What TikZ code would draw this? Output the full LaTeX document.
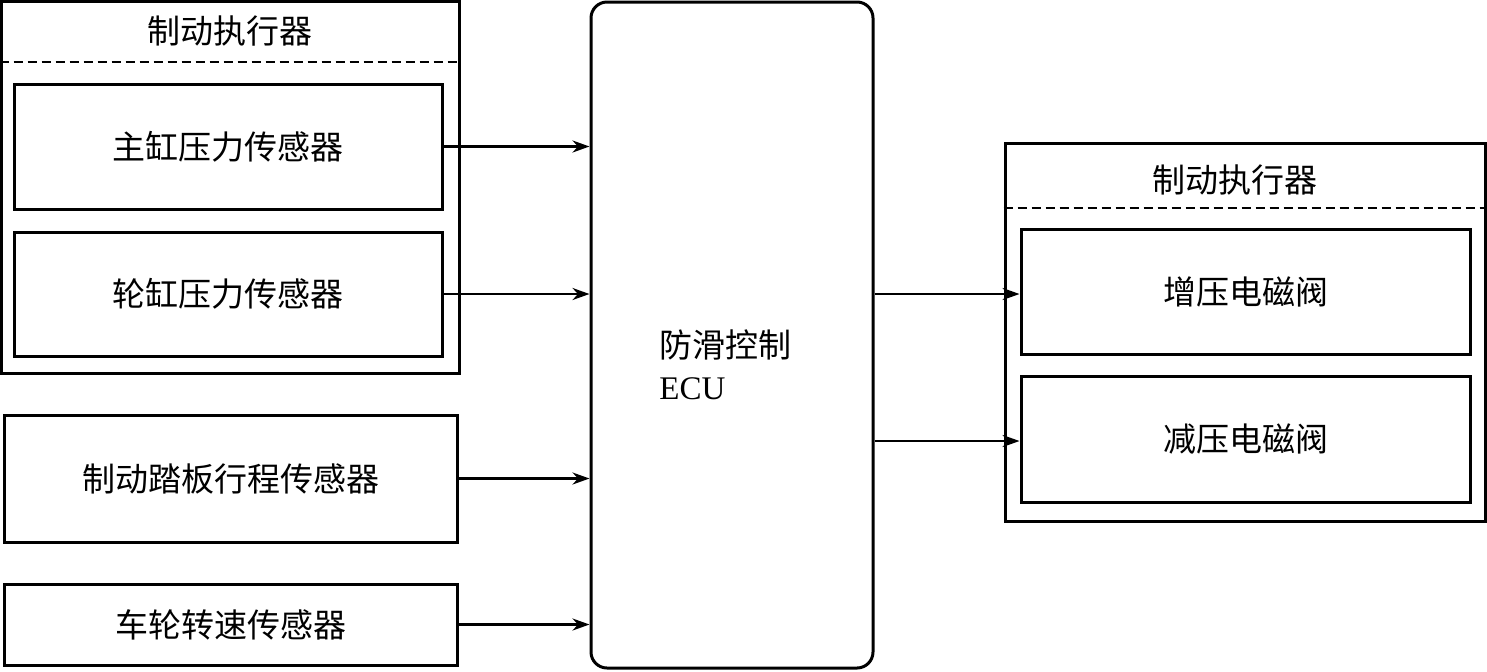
\documentclass[tikz,border=0pt]{standalone}
\usepackage{fontspec}
\newfontfamily\cjk{Noto Sans CJK SC}
\setmainfont{Liberation Serif}
\usetikzlibrary{arrows.meta}

\tikzset{
  box/.style={draw,line width=1.5pt,inner sep=0pt,font=\cjk\fontsize{16.5}{19}\selectfont},
  grp/.style={draw,line width=1.5pt,inner sep=0pt},
  sig/.style={line width=1.3pt,-{Stealth[length=8.5pt,width=6pt]}},
  sep/.style={line width=0.9pt,dash pattern=on 4.5pt off 2.5pt}
}

\begin{document}
\begin{tikzpicture}[x=0.5pt,y=-0.5pt]
  \useasboundingbox (0,0) rectangle (1487,671);

  % left: sensors
  \node[grp,minimum width=229pt,minimum height=186pt] (lgrp) at (230,187) {};
  \node[font=\cjk\fontsize{16.5}{19}\selectfont] (lhead) at (230,31) {制动执行器};
  \draw[sep] (lgrp.west |- 0,62) -- (lgrp.east |- 0,62);
  \node[box,minimum width=214pt,minimum height=62.5pt] (pmc) at (228,146.5) {主缸压力传感器};
  \node[box,minimum width=214pt,minimum height=62pt] (pwc) at (228,294) {轮缸压力传感器};
  \node[box,minimum width=226.5pt,minimum height=63.5pt] (ped) at (230.5,478.5) {制动踏板行程传感器};
  \node[box,minimum width=226.5pt,minimum height=40.5pt] (spd) at (230.5,624.5) {车轮转速传感器};

  % controller
  \node[draw,line width=1.5pt,rounded corners=8pt,inner sep=0pt,
        minimum width=141pt,minimum height=333pt] (ecu) at (732,335) {};
  \node[anchor=west,align=left,inner sep=0pt,font=\fontsize{16.5}{21}\selectfont] (ecut) at (659,365)
    {{\cjk 防滑控制}\\ECU};

  % right: valves
  \node[grp,minimum width=240pt,minimum height=189pt] (rgrp) at (1245,332) {};
  \node[font=\cjk\fontsize{16.5}{19}\selectfont] (rhead) at (1235,180) {制动执行器};
  \draw[sep] (rgrp.west |- 0,208) -- (rgrp.east |- 0,208);
  \node[box,minimum width=224.5pt,minimum height=62.5pt] (inc) at (1245.5,291.5) {增压电磁阀};
  \node[box,minimum width=224.5pt,minimum height=63pt] (dec) at (1245.5,439) {减压电磁阀};

  % signals
  \foreach \s in {pmc,pwc,ped,spd}
    \draw[sig] (\s.east) -- (ecu.west |- \s.east);
  \draw[sig] (ecu.east |- 0,294) -- (inc.west |- 0,294);
  \draw[sig] (ecu.east |- 0,441) -- (dec.west |- 0,441);
\end{tikzpicture}
\end{document}
